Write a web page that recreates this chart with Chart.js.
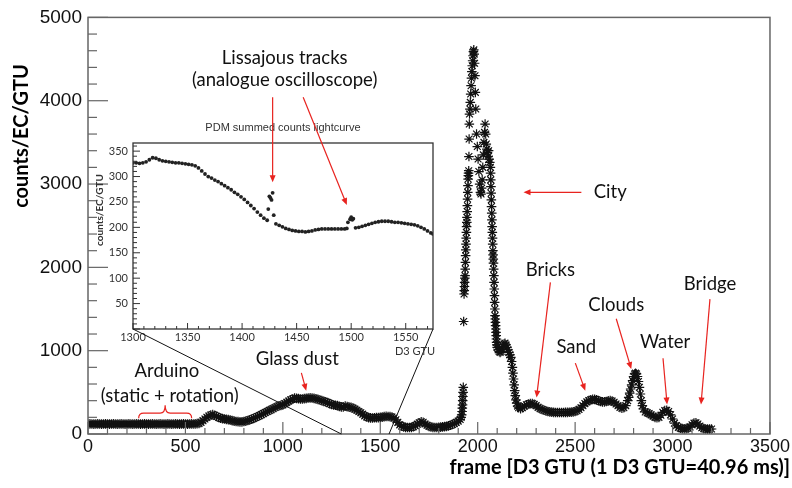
<!DOCTYPE html>
<html>
<head>
<meta charset="utf-8">
<script src="https://cdn.jsdelivr.net/npm/chart.js@4.4.1/dist/chart.umd.min.js"></script>
<style>
  html, body { margin: 0; padding: 0; background: #fff; }
  #wrap { position: relative; width: 792px; height: 488px; }
  #wrap canvas { position: absolute; left: 0; top: 0; }
</style>
</head>
<body>
<div id="wrap">
  <canvas id="mainChart" width="792" height="488"></canvas>
  <canvas id="insetChart" width="792" height="488"></canvas>
</div>
<script>
// main lightcurve: frame number vs counts/EC/GTU
const frames = [
  0, 10, 20, 30, 40, 50, 60, 70, 80, 90, 100, 110, 120, 130, 140, 150,
  160, 170, 180, 190, 200, 210, 220, 230, 240, 250, 260, 270, 280, 290,
  300, 310, 320, 330, 340, 350, 360, 370, 380, 390, 400, 410, 420, 430,
  440, 450, 460, 470, 480, 490, 500, 510, 520, 530, 540, 550, 560,
  570, 580, 590, 600, 610, 620, 630, 640, 650, 660, 670, 680, 690, 700,
  710, 720, 730, 740, 750, 760, 770, 780, 790, 800, 810, 820, 830, 840,
  850, 860, 870, 880, 890, 900, 910, 920, 930, 940, 950, 960, 970, 980,
  990, 1000, 1010, 1020, 1030, 1040, 1050, 1060, 1070, 1080, 1090, 1100,
  1110, 1120, 1130, 1140, 1150, 1160, 1170, 1180, 1190, 1200, 1210, 1220,
  1230, 1240, 1250, 1260, 1270, 1280, 1290, 1300, 1310, 1320, 1330, 1340,
  1350, 1360, 1370, 1380, 1390, 1400, 1410, 1420, 1430, 1440, 1450, 1460,
  1470, 1480, 1490, 1500, 1510, 1520, 1530, 1540, 1550, 1560, 1570, 1580,
  1590, 1600, 1610, 1620, 1630, 1640, 1650, 1660, 1670, 1680, 1690, 1700,
  1710, 1720, 1730, 1740, 1750, 1760, 1770, 1780, 1790, 1800, 1810, 1820,
  1830, 1840, 1850, 1860, 1870, 1880, 1890, 1900, 1910,
  // city peak
  1915, 1918, 1920, 1921, 1922, 1923, 1924, 1925, 1926, 1928, 1930, 1931,
  1932, 1933, 1934, 1935, 1936, 1937, 1938, 1939, 1940, 1941, 1942, 1943,
  1944, 1945, 1946, 1947, 1948, 1949, 1950, 1951, 1952, 1953, 1954, 1955,
  1956, 1957, 1958, 1960, 1962, 1964, 1966, 1968, 1970, 1972, 1974, 1976,
  1978, 1980, 1982, 1984, 1986, 1988, 1990, 1994, 1998, 2002, 2006, 2010,
  2014, 2017, 2020, 2023, 2026, 2029, 2032, 2035, 2038, 2041, 2044, 2047,
  2050, 2053, 2056, 2059, 2062, 2065, 2066, 2067, 2068, 2069, 2070, 2071,
  2072, 2073, 2074, 2075, 2076, 2077, 2078, 2079, 2080, 2081, 2082, 2083,
  2084, 2085, 2086, 2087, 2088, 2089, 2090, 2091, 2092, 2093, 2094, 2095,
  2096, 2097, 2098, 2100, 2105, 2110, 2115, 2120, 2125, 2130, 2135, 2140,
  2145, 2150, 2155, 2160, 2165, 2170, 2174, 2178, 2181, 2184, 2187, 2190,
  2193, 2196, 2200, 2205, 2210, 2220, 2230, 2240,
  // bricks .. bridge
  2250, 2260, 2270, 2280, 2290, 2300, 2310, 2320, 2330, 2340, 2350, 2360,
  2370, 2380, 2390, 2400, 2410, 2420, 2430, 2440, 2450, 2460, 2470, 2480,
  2490, 2500, 2510, 2520, 2530, 2540, 2550, 2560, 2570, 2580, 2590, 2600,
  2610, 2620, 2630, 2640, 2650, 2660, 2670, 2680, 2690, 2700, 2710, 2720,
  2730, 2740, 2750, 2760, 2770, 2775, 2780, 2785, 2790, 2795, 2800, 2805,
  2810, 2815, 2820, 2825, 2830, 2835, 2840, 2845, 2850, 2860, 2870, 2880,
  2890, 2900, 2910, 2920, 2930, 2940, 2950, 2960, 2970, 2980, 2990, 3000,
  3010, 3020, 3030, 3040, 3050, 3060, 3070, 3080, 3090, 3100, 3110, 3120,
  3130, 3140, 3150, 3160, 3170, 3180, 3190, 3200
];
const counts = [
  120, 121, 120, 119, 120, 121, 120, 119, 120, 121, 120, 119, 120, 121, 120, 119,
  120, 121, 120, 119, 120, 121, 120, 119, 120, 121, 120, 119, 120, 121,
  120, 119, 120, 121, 120, 119, 120, 121, 120, 119, 120, 121, 120, 119,
  120, 121, 120, 119, 120, 121, 120, 119, 120, 121, 120, 122, 124,
  128, 140, 160, 180, 200, 215, 228, 233, 225, 212, 200, 190, 185, 180,
  176, 172, 168, 160, 155, 150, 148, 146, 146, 150, 155, 162, 170, 178,
  188, 198, 210, 220, 232, 245, 258, 270, 283, 292, 305, 318, 330, 338,
  343, 350, 365, 380, 395, 410, 420, 430, 428, 425, 420, 420,
  425, 428, 432, 433, 432, 428, 422, 416, 408, 400, 392, 385,
  378, 365, 355, 348, 345, 340, 332, 325, 325, 335, 328, 323,
  320, 310, 298, 285, 270, 255, 238, 218, 205, 197, 193, 192,
  195, 197, 197, 200, 203, 208, 212, 210, 208, 203, 192, 170,
  140, 110, 95, 85, 80, 78, 78, 80, 88, 100, 118, 135,
  146, 140, 120, 105, 92, 85, 80, 78, 78, 80, 82, 85,
  88, 92, 98, 105, 115, 125, 140, 155, 175,
  200, 230, 270, 310, 350, 400, 450, 500, 560, 1350, 1680, 1720,
  1770, 1820, 1870, 1900, 1980, 2060, 2140, 2210, 2280, 2350, 2420, 2490,
  2540, 2600, 2670, 2740, 2820, 2900, 2980, 3060, 3100, 3130, 3160, 3330,
  3540, 3720, 3840, 3900, 3980, 4080, 4180, 4270, 4350, 4420, 4480, 4540,
  4590, 4610, 4560, 4450, 4300, 4100, 3900, 3600, 3450, 3300, 3150, 3000,
  2900, 2880, 2950, 3050, 3200, 3350, 3500, 3620, 3720, 3600, 3480, 3420,
  3380, 3330, 3400, 3300, 3260, 3200, 3130, 3050, 2970, 2890, 2810, 2730,
  2650, 2570, 2490, 2420, 2350, 2280, 2200, 2150, 2100, 2050, 1980, 1900,
  1820, 1740, 1660, 1580, 1500, 1420, 1380, 1340, 1300, 1260, 1220, 1180,
  1140, 1100, 1070, 1040, 1010, 990, 980, 990, 1020, 1050, 1080, 1090,
  1070, 1040, 1010, 980, 950, 920, 870, 800, 730, 660, 590, 520,
  460, 410, 370, 335, 315, 305, 315, 335,
  350, 360, 365, 365, 355, 340, 320, 305, 295, 285, 278, 270,
  265, 262, 260, 258, 258, 258, 258, 258, 259, 260, 261, 263,
  266, 270, 280, 295, 315, 340, 365, 385, 400, 410, 415, 415,
  410, 400, 390, 385, 385, 390, 398, 400, 395, 380, 360, 340,
  320, 310, 315, 340, 400, 440, 490, 540, 590, 640, 690, 720,
  730, 720, 690, 630, 560, 480, 400, 340, 300, 265, 255, 245,
  230, 215, 200, 195, 200, 225, 260, 280, 285, 270, 230, 180,
  130, 100, 80, 70, 65, 62, 65, 70, 85, 110, 130, 135,
  120, 95, 75, 65, 60, 58, 58, 60
];

// inset: PDM summed counts lightcurve, frames 1300-1575
const insetFrames = [
  1300, 1303, 1306, 1309, 1312, 1315, 1318, 1321, 1324, 1327, 1330, 1333,
  1336, 1339, 1342, 1345, 1348, 1351, 1354, 1357, 1360, 1363, 1366, 1369,
  1372, 1375, 1378, 1381, 1384, 1387, 1390, 1393, 1396, 1399, 1402, 1405,
  1408, 1411, 1414, 1417, 1420, 1423, 1424, 1425, 1426, 1427, 1428, 1429,
  1431, 1434, 1437, 1440, 1443, 1446, 1449, 1452, 1455, 1458, 1461, 1464,
  1467, 1470, 1473, 1476, 1479, 1482, 1485, 1488, 1491, 1494, 1496, 1497,
  1499, 1500, 1501, 1502, 1504, 1507, 1510, 1513, 1516, 1519, 1522, 1525,
  1528, 1531, 1534, 1537, 1540, 1543, 1546, 1549, 1552, 1555, 1558, 1561,
  1564, 1567, 1570, 1573, 1575
];
const insetCounts = [
  327, 327, 326, 327, 329, 333, 337, 336, 333, 331, 330, 329,
  328, 327, 327, 326, 325, 324, 323, 321, 317, 311, 305, 300,
  297, 293, 290, 286, 282, 278, 274, 269, 265, 260, 255, 249,
  243, 237, 230, 224, 218, 214, 236, 261, 258, 254, 268, 224,
  207, 204, 201, 198, 196, 194, 193, 192, 192, 191, 192, 193,
  195, 196, 197, 197, 197, 197, 197, 197, 197, 197, 198, 210,
  216, 220, 215, 217, 199, 200, 202, 204, 206, 208, 210, 211,
  212, 212, 212, 211, 210, 210, 209, 208, 207, 206, 205, 203,
  200, 197, 193, 189, 187
];

const mainNotes = [
  { text: 'City', x: 2680, y: 2908 },
  { text: 'Bricks', x: 2373, y: 1962 },
  { text: 'Sand', x: 2506, y: 1040 },
  { text: 'Clouds', x: 2711, y: 1548 },
  { text: 'Water', x: 2962, y: 1099 },
  { text: 'Bridge', x: 3192, y: 1797 },
  { text: 'Glass dust', x: 1074, y: 898 },
  { text: 'Arduino', x: 405, y: 757 },
  { text: '(static + rotation)', x: 419, y: 461 }
];
const mainArrows = [
  [2532, 2900, 2235, 2900],
  [2373, 1820, 2302, 437],
  [2501, 851, 2552, 520],
  [2711, 1383, 2788, 780],
  [2951, 910, 2972, 355],
  [3192, 1619, 3146, 355],
  [1095, 733, 1120, 520]
];
const RED = '#e8231f';
const noteFont = '18.5px Lato';

function arrow(ctx, x1, y1, x2, y2) {
  const a = Math.atan2(y2 - y1, x2 - x1);
  const L = 7, W = 3;
  ctx.beginPath();
  ctx.moveTo(x1, y1);
  ctx.lineTo(x2 - Math.cos(a) * 4, y2 - Math.sin(a) * 4);
  ctx.stroke();
  ctx.beginPath();
  ctx.moveTo(x2, y2);
  ctx.lineTo(x2 - L * Math.cos(a) + W * Math.sin(a), y2 - L * Math.sin(a) - W * Math.cos(a));
  ctx.lineTo(x2 - L * Math.cos(a) - W * Math.sin(a), y2 - L * Math.sin(a) + W * Math.cos(a));
  ctx.closePath();
  ctx.fill();
}

// inward tick marks along bottom and left edges
function drawTicks(ctx, chart, xs, ys) {
  const a = chart.chartArea, sx = chart.scales.x, sy = chart.scales.y;
  for (let v = xs.from; v <= xs.to; v += xs.minor) {
    const px = sx.getPixelForValue(v);
    const len = (v - xs.from) % xs.major === 0 ? xs.majorLen : xs.minorLen;
    ctx.beginPath(); ctx.moveTo(px, a.bottom); ctx.lineTo(px, a.bottom - len); ctx.stroke();
  }
  for (let v = ys.from; v <= ys.to; v += ys.minor) {
    const py = sy.getPixelForValue(v);
    const len = v % ys.major === 0 ? ys.majorLen : ys.minorLen;
    ctx.beginPath(); ctx.moveTo(a.left, py); ctx.lineTo(a.left + len, py); ctx.stroke();
  }
}

const mainDecor = {
  id: 'mainDecor',
  afterDraw(chart) {
    const ctx = chart.ctx, a = chart.chartArea, sx = chart.scales.x, sy = chart.scales.y;
    ctx.save();
    ctx.strokeStyle = '#666';
    ctx.lineWidth = 1.5;
    ctx.strokeRect(a.left, a.top, a.right - a.left, a.bottom - a.top);
    ctx.lineWidth = 1.2;
    drawTicks(ctx, chart,
      { from: 0, to: 3500, minor: 100, major: 500, majorLen: 12, minorLen: 6 },
      { from: 0, to: 5000, minor: 200, major: 1000, majorLen: 20, minorLen: 9 });

    // axis titles
    ctx.fillStyle = '#000';
    ctx.font = 'bold 20px Lato';
    ctx.textAlign = 'right';
    ctx.textBaseline = 'middle';
    ctx.fillText('frame [D3 GTU (1 D3 GTU=40.96 ms)]', 790, 468);
    ctx.save();
    ctx.translate(22, 136);
    ctx.rotate(-Math.PI / 2);
    ctx.textAlign = 'center';
    ctx.fillText('counts/EC/GTU', 0, 0);
    ctx.restore();

    // annotations
    ctx.font = noteFont;
    ctx.textAlign = 'center';
    ctx.fillStyle = '#111';
    mainNotes.forEach(n => ctx.fillText(n.text, sx.getPixelForValue(n.x), sy.getPixelForValue(n.y)));
    ctx.strokeStyle = RED;
    ctx.fillStyle = RED;
    ctx.lineWidth = 1.2;
    mainArrows.forEach(r => arrow(ctx, sx.getPixelForValue(r[0]), sy.getPixelForValue(r[1]),
      sx.getPixelForValue(r[2]), sy.getPixelForValue(r[3])));

    // red brace under the Arduino label
    const bx1 = sx.getPixelForValue(260), bx2 = sx.getPixelForValue(532);
    const bm = (bx1 + bx2) / 2;
    const yEnd = sy.getPixelForValue(190), yLine = sy.getPixelForValue(250), yPeak = sy.getPixelForValue(345);
    ctx.beginPath();
    ctx.moveTo(bx1, yEnd);
    ctx.quadraticCurveTo(bx1, yLine, bx1 + 5, yLine);
    ctx.lineTo(bm - 5, yLine);
    ctx.quadraticCurveTo(bm, yLine, bm, yPeak);
    ctx.quadraticCurveTo(bm, yLine, bm + 5, yLine);
    ctx.lineTo(bx2 - 5, yLine);
    ctx.quadraticCurveTo(bx2, yLine, bx2, yEnd);
    ctx.stroke();
    ctx.restore();
  }
};

const mainChart = new Chart(document.getElementById('mainChart'), {
  type: 'scatter',
  data: {
    datasets: [{
      data: frames.map((f, i) => ({ x: f, y: counts[i] })),
      pointStyle: 'star',
      pointRadius: 4.8,
      pointBorderColor: '#111',
      pointBorderWidth: 1.2,
      pointBackgroundColor: 'rgba(0,0,0,0)'
    }]
  },
  options: {
    responsive: false,
    animation: false,
    devicePixelRatio: 1,
    layout: { padding: { top: 11, right: 20, left: 0, bottom: 0 } },
    plugins: { legend: { display: false }, tooltip: { enabled: false } },
    scales: {
      x: {
        type: 'linear', min: 0, max: 3500,
        grid: { display: false, drawTicks: false }, border: { display: false },
        ticks: { stepSize: 500, maxRotation: 0, padding: 2, color: '#111',
          font: { family: 'Liberation Sans', size: 18 }, callback: v => String(v) },
        afterFit(scale) { scale.height = 54; }
      },
      y: {
        min: 0, max: 5000,
        grid: { display: false, drawTicks: false }, border: { display: false },
        ticks: { stepSize: 1000, padding: 6, color: '#111',
          font: { family: 'Liberation Sans', size: 19 }, callback: v => String(v) },
        afterFit(scale) { scale.width = 88; }
      }
    }
  },
  plugins: [mainDecor]
});

const insetDecor = {
  id: 'insetDecor',
  afterDraw(chart) {
    const ctx = chart.ctx, a = chart.chartArea, sx = chart.scales.x, sy = chart.scales.y;
    ctx.save();
    ctx.strokeStyle = '#333';
    ctx.lineWidth = 1;
    drawTicks(ctx, chart,
      { from: 1300, to: 1575, minor: 10, major: 50, majorLen: 6, minorLen: 3 },
      { from: 0, to: 360, minor: 10, major: 50, majorLen: 7, minorLen: 4 });
    ctx.lineWidth = 1.3;
    ctx.strokeRect(a.left, a.top, a.right - a.left, a.bottom - a.top);

    // zoom lines down to the main x axis
    const ms = mainChart.scales;
    ctx.strokeStyle = '#111';
    ctx.lineWidth = 1;
    ctx.beginPath();
    ctx.moveTo(a.left, a.bottom);
    ctx.lineTo(ms.x.getPixelForValue(1300), ms.y.getPixelForValue(0));
    ctx.moveTo(a.right, a.bottom);
    ctx.lineTo(ms.x.getPixelForValue(1545), ms.y.getPixelForValue(0));
    ctx.stroke();

    ctx.fillStyle = '#333';
    ctx.textAlign = 'center';
    ctx.textBaseline = 'middle';
    ctx.font = '11px "Liberation Sans"';
    ctx.fillText('PDM summed counts lightcurve', (a.left + a.right) / 2, 128);
    ctx.font = '11px Lato';
    ctx.fillText('D3 GTU', 415, 351);
    ctx.save();
    ctx.translate(100, 210);
    ctx.rotate(-Math.PI / 2);
    ctx.font = 'bold 10px Lato';
    ctx.fillText('counts/EC/GTU', 0, 0);
    ctx.restore();

    // Lissajous note
    ctx.fillStyle = '#111';
    ctx.font = noteFont;
    const tx = sx.getPixelForValue(1439);
    ctx.fillText('Lissajous tracks', tx, sy.getPixelForValue(533));
    ctx.fillText('(analogue oscilloscope)', tx, sy.getPixelForValue(490));
    ctx.strokeStyle = RED;
    ctx.fillStyle = RED;
    ctx.lineWidth = 1.2;
    arrow(ctx, sx.getPixelForValue(1428), sy.getPixelForValue(456), sx.getPixelForValue(1428), sy.getPixelForValue(289));
    arrow(ctx, sx.getPixelForValue(1456), sy.getPixelForValue(456), sx.getPixelForValue(1496), sy.getPixelForValue(244));
    ctx.restore();
  }
};

const insetChart = new Chart(document.getElementById('insetChart'), {
  type: 'scatter',
  data: {
    datasets: [{
      data: insetFrames.map((f, i) => ({ x: f, y: insetCounts[i] })),
      pointStyle: 'circle',
      pointRadius: 1.9,
      pointBorderWidth: 0,
      pointBackgroundColor: '#222'
    }]
  },
  options: {
    responsive: false,
    animation: false,
    devicePixelRatio: 1,
    layout: { padding: { top: 143, right: 359, left: 103, bottom: 134 } },
    plugins: { legend: { display: false }, tooltip: { enabled: false } },
    scales: {
      x: {
        type: 'linear', min: 1300, max: 1575,
        grid: { display: false, drawTicks: false }, border: { display: false },
        ticks: { stepSize: 50, includeBounds: false, maxRotation: 0, padding: 2, color: '#333',
          font: { family: 'Lato', size: 11 }, callback: v => String(v) },
        afterFit(scale) { scale.height = 25; }
      },
      y: {
        min: 0, max: 366,
        grid: { display: false, drawTicks: false }, border: { display: false },
        ticks: { stepSize: 50, includeBounds: false, padding: 5, color: '#333',
          font: { family: 'Lato', size: 11 },
          callback: v => (v > 0 ? String(v) : '') },
        afterFit(scale) { scale.width = 30; }
      }
    }
  },
  plugins: [insetDecor]
});
</script>
</body>
</html>
